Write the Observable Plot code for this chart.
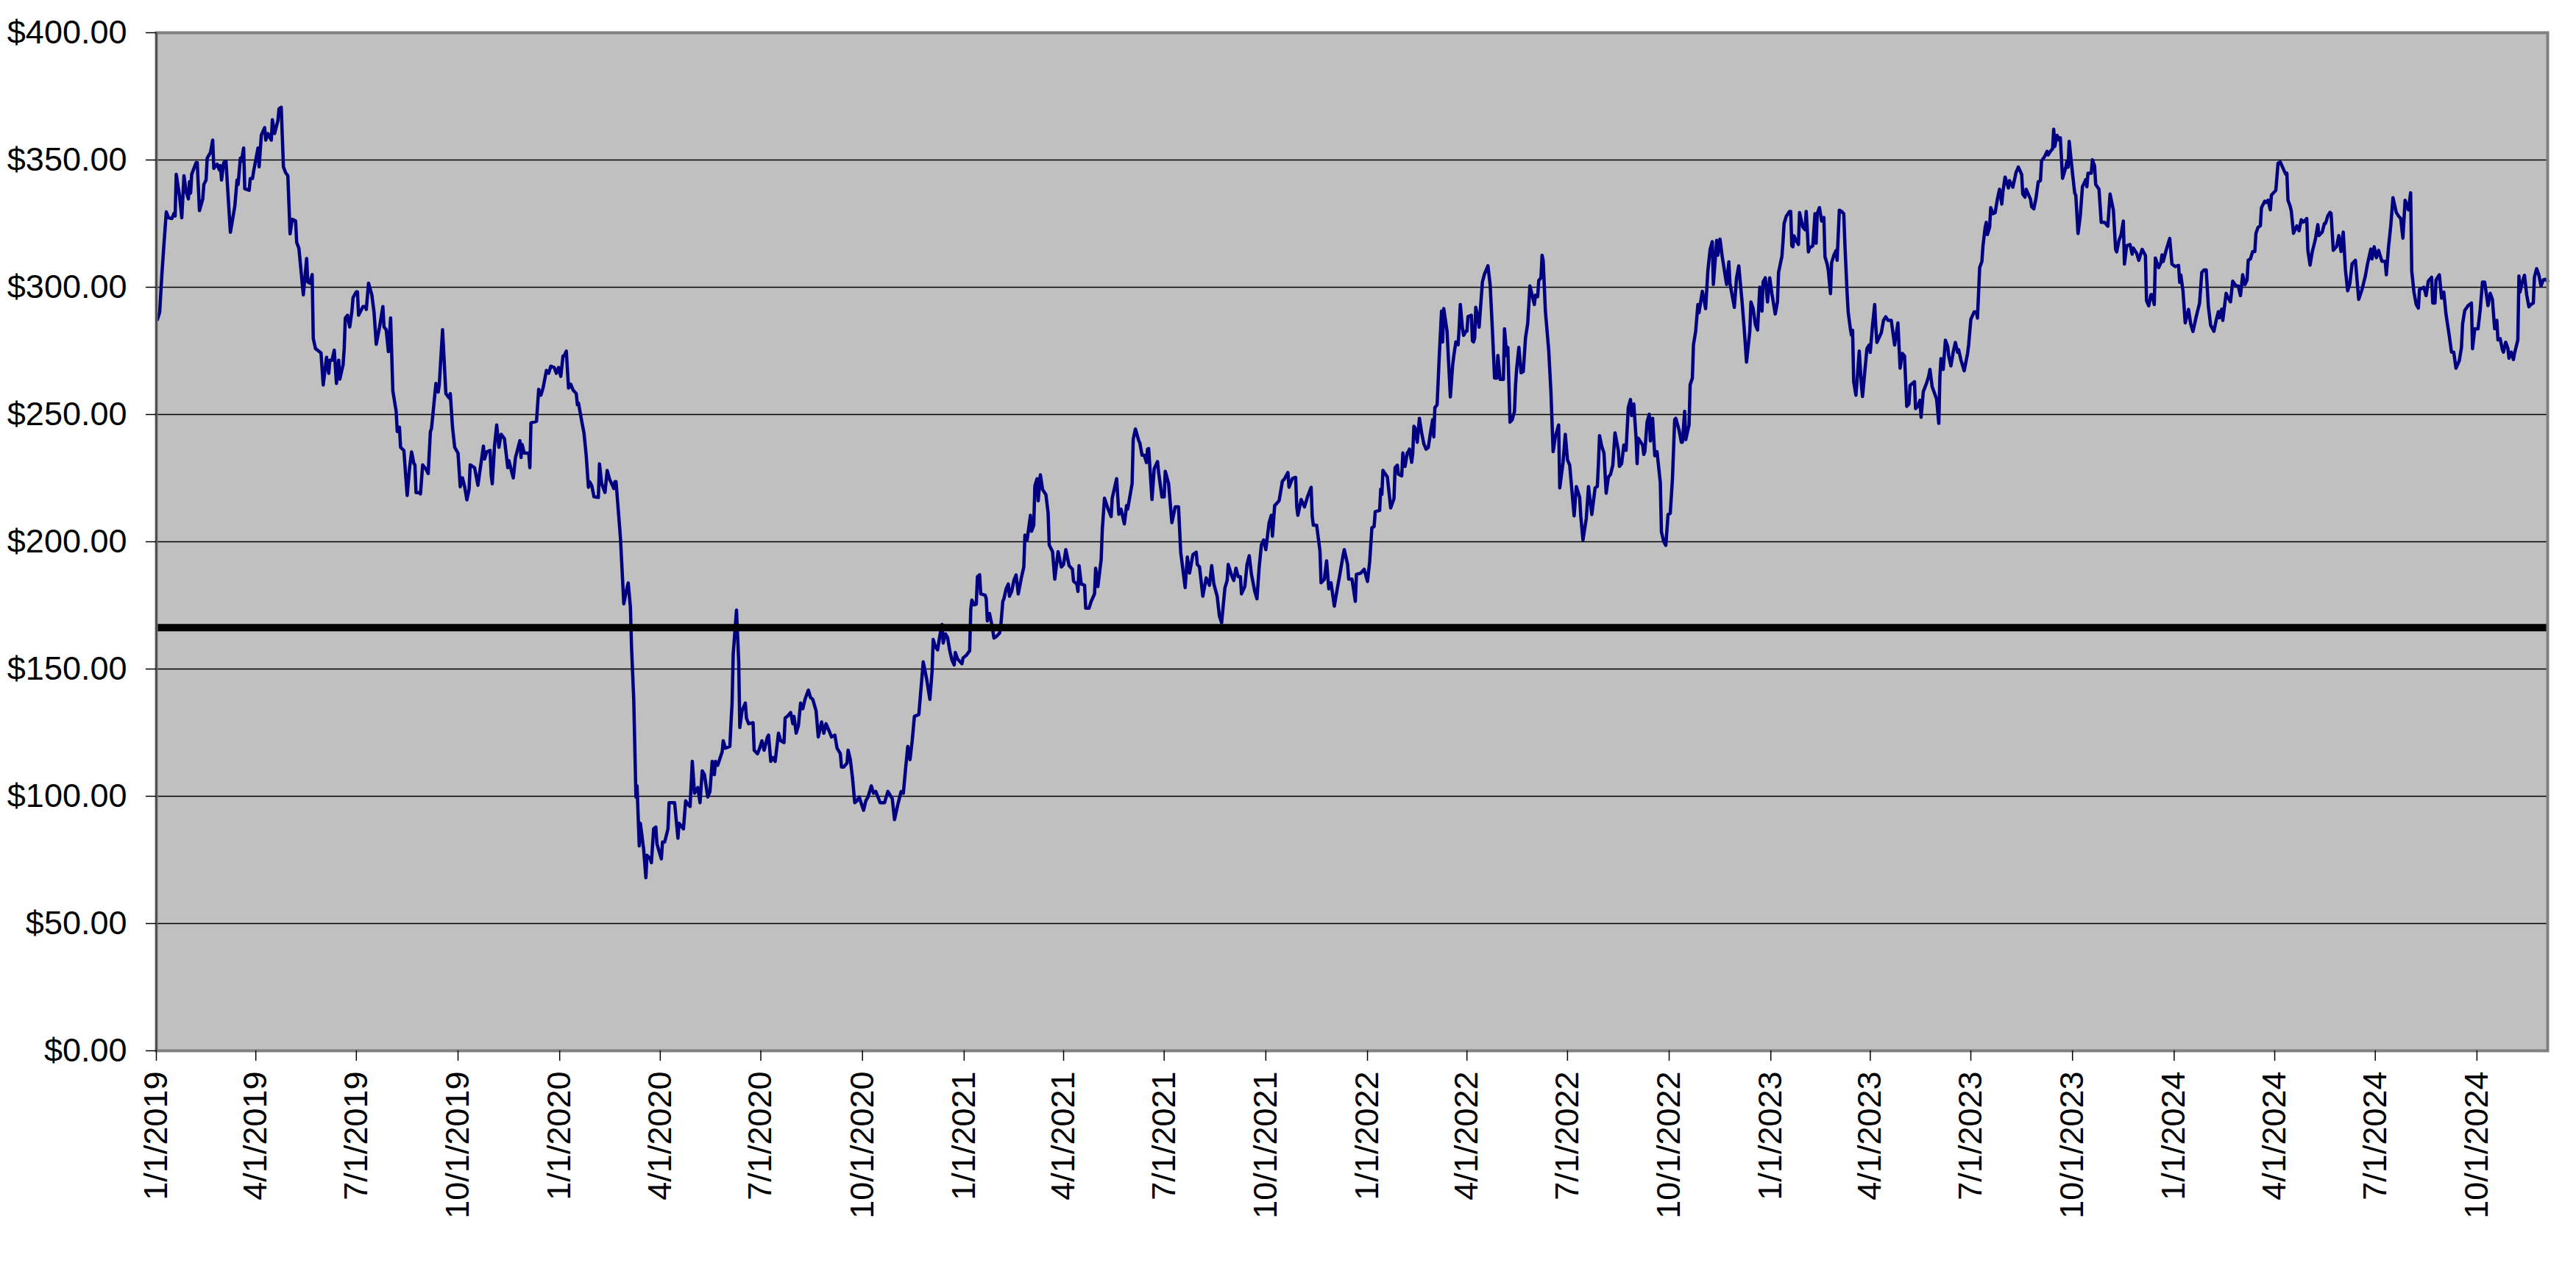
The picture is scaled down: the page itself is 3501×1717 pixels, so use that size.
<!DOCTYPE html>
<html>
<head>
<meta charset="utf-8">
<script src="https://cdn.jsdelivr.net/npm/d3@7"></script>
<script src="https://cdn.jsdelivr.net/npm/@observablehq/plot@0.6"></script>
<style>
  html, body { margin: 0; padding: 0; background: #ffffff; }
  #chart svg { display: block; }
</style>
</head>
<body>
<div id="chart"></div>
<script>
// ---- data (day offset from 2019-01-01, closing price) ----
const startDate = "2019-01-01";
const endDate = "2024-12-04";
const referenceLevel = 166.25;
const yTicks = [0, 50, 100, 150, 200, 250, 300, 350, 400];
const gridLevels = [50, 100, 150, 200, 250, 300, 350];

const trace2019 = [[1,287.3],[3,290.2],[5,305],[7,317.6],[9,329.6],[11,327.3],[14,327],[16,329],[17,328],[18,344.4],[21,335.8],[23,327.3],[25,343.8],[27,337.5],[29,334.7],[30,341.5],[31,337],[32,344.4],[36,349],[37,349],[39,330.1],[42,334.7],[43,340.4],[45,342.1],[46,350.7],[49,353],[51,357.8],[52,346.7],[55,348.4],[57,346.1],[58,347.8],[59,342.1],[61,349],[63,349.5],[67,321.6],[71,331.8],[73,342.1],[74,340.4],[76,350.7],[77,349.5],[79,354.7],[80,338.7],[84,338.1],[85,342.7],[87,342.7],[88,345.5],[92,354.7],[93,347.3],[95,359.8],[98,362.7],[99,357.8],[101,360.4],[104,357.8],[105,365.8],[107,360.4],[110,365.5],[111,370.1],[113,370.7],[115,347.3],[117,345],[119,343.8],[120,332.4],[121,321],[123,326.7],[126,326.1],[127,317.6],[129,315.3],[133,297],[136,311.3],[137,302.1],[139,301.6],[141,305],[142,279.9],[144,275.9],[149,274.2],[151,261.6],[154,272.5],[156,266.2],[157,271.3],[159,271.3],[161,275.3],[163,262.2],[165,271.3],[166,263.9],[169,269.6],[170,275.9],[171,287.9],[173,289],[175,284.4],[177,290.7],[178,295.9],[181,298.2],[182,298.2],[183,289],[187,292.4],[189,292.4],[190,291.3],[192,301.6],[195,297],[197,290.2],[199,277.6],[202,284.4],[205,292.4],[206,284.4],[208,283.3],[210,274.7],[212,287.9],[214,259.3],[217,251.3],[218,243.3],[220,245],[221,237.1],[224,235.9],[226,223.9],[227,218.2],[229,228.5],[231,235.3],[233,230.8],[234,230.2],[235,219.3],[238,219.3],[239,218.8],[241,230.2],[244,228.5],[246,226.8],[248,243.3],[249,244.5],[253,262.2],[255,258.8],[256,261.6],[259,283.3],[262,258.2],[265,256.5],[266,258.2],[268,245],[270,237.1],[273,234.8],[275,221.6],[277,225.1],[279,221.6],[281,216.5],[283,220.5],[284,230.2],[288,229.1],[291,222.2],[296,237.6],[297,232.5],[299,235.3],[302,235.9],[303,226.2],[304,222.8],[306,237.6],[308,245.9],[310,237.1],[312,242.2],[315,240.5],[318,229.1],[319,231.9],[323,225.1],[325,233.1],[329,239.7],[330,233.1],[331,238.2],[333,234.8],[337,234.8],[338,229.1],[339,246.7],[344,247.3],[346,259.9],[348,257.6],[350,260.5],[353,267.3],[355,266.2],[357,269],[360,268.5],[362,266.2],[364,268.5]];

const trace2020 = [[366,265],[368,273],[369,273],[371,274.9],[373,260.4],[375,261.9],[377,259.7],[380,258.2],[381,253.8],[382,254.5],[385,247.2],[387,242.7],[389,233.9],[391,221.4],[392,223.6],[394,222.1],[396,217.7],[400,217.4],[401,230.6],[403,222.8],[406,219.4],[408,228],[410,224.7],[414,220.9],[415,223.6],[416,223.6],[420,201.4],[423,175.6],[425,180.1],[427,183.8],[429,174.2],[430,158.7],[432,138.1],[434,99.7],[435,104.1],[437,80.5],[438,89.4],[441,79.1],[443,68],[444,76.8],[447,75.4],[448,73.9],[450,87.2],[452,87.9],[453,81.3],[455,78.3],[457,75.4],[458,82],[460,82],[463,87.2],[464,97.5],[469,97.5],[472,83.5],[473,89.4],[477,87.2],[479,98.2],[481,96.8],[483,96],[485,113.7],[487,101.2],[490,103.4],[492,97.5],[494,110],[496,108.5],[499,99.7],[501,101.9],[503,113.7],[505,108.5],[506,113.7],[508,112.2],[512,117.4],[513,121.8],[515,118.9],[519,119.6],[520,128.5],[521,136.6],[522,155.7],[525,173.1],[527,152.8],[528,127],[530,133.6],[533,136.6],[534,130.7],[536,128.5],[540,128.9],[541,118.1],[544,116.7],[546,118.9],[548,121.8],[550,118.1],[553,123.3],[554,124],[556,113.7],[558,115.2],[560,113.7],[563,124.8],[565,121.8],[568,121.1],[569,130.7],[571,131.4],[574,132.9],[576,128.5],[577,131.4],[579,124.8],[581,127.7],[583,136.6],[585,134.4],[587,138.1],[590,141.7],[592,138.8],[594,138.1],[597,133.6],[599,123.3],[602,129.2],[604,124.8],[606,128.5],[609,125.5],[611,123.3],[614,124],[616,118.9],[619,116.7],[620,111.5],[622,111.5],[625,113],[626,118.1],[628,114.4],[630,107.1],[632,97.5],[634,98.2],[636,99.7],[640,94.5],[642,98.2],[644,99.7],[647,104.1],[649,101.2],[651,101.9],[653,99.7],[655,97.5],[659,97.5],[662,101.9],[666,99],[668,90.8],[671,96.8],[674,101.9],[676,101.2],[678,110.8],[680,119.6],[682,114.4],[684,121.8],[686,131.4],[690,132.1],[691,137.3],[694,152.8],[697,146.2],[700,138.1],[702,149.1],[703,161.6],[705,158.7],[707,157.5],[709,163.1],[711,167.5],[712,160.2],[714,163.8],[716,162.4],[718,157.2],[720,153.5],[722,151.6],[723,156.5],[725,154],[729,152.1],[730,154.3]];

const trace2021 = [[733,155.4],[736,157.2],[737,173.4],[738,177.1],[740,175.2],[742,175.5],[743,186.3],[745,187],[746,179.5],[750,179],[751,177.6],[752,168.9],[754,171.8],[756,167.5],[758,162.2],[760,162.7],[763,164.1],[764,166],[766,176.6],[767,177.6],[769,181.5],[771,183.4],[772,178.6],[774,180.5],[776,184.8],[778,187],[780,179.5],[783,186.3],[785,190.1],[786,202.6],[788,200.7],[791,210.4],[792,204.1],[794,206.5],[795,221.9],[797,224.8],[798,216.1],[800,226.3],[802,220.5],[805,218.5],[807,211.3],[808,198.8],[811,196.1],[813,185.3],[816,196.1],[819,190.1],[821,191.1],[823,196.9],[826,190.6],[829,189.2],[830,184.5],[833,183.4],[834,180.5],[835,190.6],[837,183.4],[840,182.9],[841,173.9],[844,173.9],[846,176.6],[849,179.5],[850,189.6],[852,182.4],[855,193],[856,204.6],[858,217.1],[861,213.2],[864,209.9],[865,217.1],[869,224.8],[871,210.8],[873,212.8],[876,207],[878,214.2],[879,212.8],[883,222.9],[884,240.2],[886,244.3],[889,239.7],[890,238.8],[892,234],[894,234],[896,231.1],[897,236.4],[898,236.6],[901,216.6],[903,228.7],[906,231.5],[907,227.2],[910,217.6],[912,217.6],[913,227.7],[916,222.9],[919,207.5],[922,213.7],[925,213.7],[927,195.9],[931,182],[933,194],[935,187.7],[938,194.9],[941,195.9],[942,191.1],[944,190.1],[947,178.6],[950,185.8],[953,182.9],[955,190.6],[957,183.4],[960,178.6],[962,170.8],[964,168.2],[967,181.9],[969,184.8],[970,191.1],[973,186.8],[975,184.8],[977,189.6],[979,186.3],[981,186.3],[982,179.5],[985,182.4],[987,191.1],[989,194.5],[991,187.2],[994,180.5],[996,177.6],[998,190.1],[1000,198.8],[1002,200.7],[1004,196.9],[1007,207.5],[1009,210.4],[1010,202.2],[1012,214.2],[1016,216.1],[1019,223.8],[1021,224.8],[1024,227.2],[1025,221.4],[1028,224.8],[1031,225.3],[1032,213.7],[1033,210.4],[1036,216.6],[1039,213.7],[1042,218],[1045,221.4],[1046,209.9],[1047,206.5],[1050,206.5],[1053,196.4],[1054,183.9],[1057,185.3],[1059,192.5],[1061,181.5],[1063,183.9],[1066,174.7],[1069,182.4],[1071,187.2],[1074,194.9],[1075,196.9],[1078,191.1],[1079,185.3],[1082,185.3],[1085,176.6],[1086,187.2],[1090,187.7],[1093,189.2]];

const trace2022 = [[1096,184.4],[1098,192.3],[1100,205.5],[1102,206],[1103,211.8],[1107,212.3],[1108,220.7],[1109,218.6],[1110,228],[1114,225.4],[1117,213.3],[1120,217],[1121,229.1],[1123,230.1],[1124,226.5],[1127,225.9],[1128,234.9],[1130,229.6],[1132,234.9],[1133,235.4],[1134,236.4],[1136,231.2],[1137,234.9],[1138,245.4],[1139,244.8],[1141,239.1],[1143,248.5],[1145,242.8],[1147,238.5],[1149,236.4],[1151,237],[1153,242.8],[1155,248],[1156,241.2],[1157,252.7],[1159,253.8],[1161,273.2],[1163,290.6],[1164,278.5],[1165,291.6],[1168,282.7],[1171,256.9],[1173,269],[1174,272.7],[1176,278.5],[1178,277.4],[1179,284.3],[1180,293.2],[1182,283.7],[1183,281.1],[1185,282.7],[1186,282.7],[1187,288.5],[1190,289],[1191,279],[1192,278.5],[1193,280.1],[1194,292.1],[1196,287.9],[1197,284.3],[1200,302.1],[1202,305.3],[1205,308.4],[1207,301.1],[1209,283.7],[1211,264.3],[1213,264.3],[1214,273.2],[1216,263.8],[1219,263.8],[1220,283.7],[1222,273.2],[1223,276.4],[1224,261.7],[1225,247],[1227,248],[1229,251.1],[1230,261.7],[1231,268],[1233,276.4],[1235,266.4],[1237,266.9],[1239,280.1],[1241,285.8],[1243,300.5],[1245,296.9],[1247,293.2],[1248,296.9],[1250,296.3],[1251,302.6],[1253,303.7],[1254,312.6],[1255,310.5],[1257,290.6],[1260,275.3],[1262,259],[1264,235.4],[1266,241.2],[1269,245.9],[1270,221.2],[1273,231.2],[1275,242.2],[1277,232.2],[1279,230.1],[1283,210.2],[1285,221.7],[1288,217.5],[1289,210.2],[1291,200.7],[1294,209.1],[1296,221.7],[1299,210.7],[1302,221.2],[1304,221.7],[1305,230.7],[1306,241.7],[1308,237.5],[1310,234.9],[1312,219.1],[1314,225.4],[1316,226.5],[1318,230.1],[1320,242.8],[1323,235.9],[1324,229.6],[1326,230.7],[1328,238],[1330,235.9],[1332,252.7],[1334,255.9],[1335,249.6],[1337,254.1],[1339,241.2],[1340,230.7],[1341,240.7],[1345,238],[1346,234.3],[1347,235.4],[1349,247],[1351,250.1],[1352,239.6],[1354,248.5],[1356,233.8],[1358,235.4],[1361,223.3],[1362,203.9],[1364,200.2],[1366,198.6],[1368,210.7],[1370,211.2],[1372,224.9],[1374,248],[1375,248.5],[1378,243.8],[1380,239.1],[1381,239.1],[1383,251.2],[1384,240.1],[1387,245.9],[1388,261.7],[1390,264.3],[1391,277.4],[1393,282.7],[1395,293.2],[1396,290],[1399,298.4],[1400,296.3],[1402,291.6],[1404,306.3],[1406,314.7],[1408,317.9],[1409,301.1],[1412,318.4],[1413,312.6],[1415,318.9],[1417,312.1],[1421,301.1],[1423,310],[1424,301.6],[1428,292.1],[1430,303.7],[1432,308.4],[1435,294.2],[1437,283.2],[1439,270.6],[1442,282.7],[1443,294.2],[1445,291.6],[1447,285.3],[1449,283.2],[1451,300],[1453,290.6],[1454,302.1],[1456,303.7],[1458,294.2],[1460,303.7]];

const trace2023 = [[1462,297.4],[1465,289.5],[1467,294.2],[1468,305.8],[1470,310],[1471,312],[1472,317.8],[1473,325],[1475,327.9],[1478,329.8],[1479,329.8],[1480,316.3],[1481,315.9],[1482,320.2],[1484,318.3],[1486,316.8],[1487,329.3],[1490,323.6],[1492,322.6],[1493,329.8],[1494,322.6],[1495,313.9],[1496,315.4],[1499,316.3],[1501,328.9],[1502,317.3],[1503,328.9],[1505,331.3],[1507,326],[1509,327.4],[1510,312],[1512,309.1],[1513,306.7],[1515,297.5],[1516,309.6],[1518,312.5],[1520,314.4],[1521,310.6],[1523,330.3],[1525,329.8],[1527,328.9],[1528,317.3],[1530,298],[1531,290.3],[1533,283.6],[1534,281.2],[1535,283.1],[1536,262.9],[1538,257.6],[1539,262.9],[1541,274.9],[1543,261.4],[1544,257.1],[1546,266.7],[1548,275.9],[1550,277.3],[1551,274.4],[1553,285],[1555,293.2],[1556,284.5],[1557,278.3],[1561,282.1],[1563,287],[1565,288.4],[1567,287],[1570,287],[1573,277.3],[1576,286],[1578,268.2],[1580,274],[1582,273],[1584,253.2],[1586,254.2],[1587,261.4],[1591,262.9],[1592,252.3],[1594,253.2],[1596,255.6],[1597,248.9],[1599,259],[1602,262.4],[1604,265.3],[1605,267.7],[1607,260.9],[1609,258.5],[1611,256.1],[1613,246.5],[1614,264.8],[1615,272],[1617,267.7],[1619,279.2],[1621,276.8],[1622,273],[1624,269.1],[1626,274.4],[1628,278.3],[1630,274.4],[1631,275.4],[1633,271.5],[1636,267.2],[1639,273.9],[1640,277.3],[1642,287.4],[1645,290.3],[1647,290.3],[1648,287.9],[1650,307.7],[1652,310.1],[1653,316.3],[1655,323.6],[1656,325.5],[1657,320.7],[1659,323.6],[1660,331.3],[1662,328.9],[1664,329.3],[1666,334.6],[1668,338.5],[1670,332.7],[1671,337.5],[1673,343.3],[1676,339],[1677,341.9],[1680,339.3],[1683,345.2],[1685,347.2],[1688,344.3],[1689,336.6],[1691,335.4],[1692,338.5],[1694,336.6],[1696,334.6],[1697,331.7],[1699,330.8],[1701,335.1],[1703,341.4],[1705,341.9],[1706,349.6],[1709,351.5],[1711,353.4],[1712,352],[1714,353.4],[1716,354.4],[1717,362.1],[1718,355.3],[1720,359.7],[1722,357.8],[1723,358.7],[1725,342.8],[1728,347.2],[1729,349.6],[1730,347.2],[1731,357.3],[1734,344.8],[1736,337],[1737,336.1],[1739,321.1],[1741,327.9],[1743,339.5],[1746,342.3],[1747,339.5],[1748,344.8],[1751,344.8],[1752,350.1],[1754,347.6],[1755,340.4],[1758,338.5],[1760,325.5],[1763,325.5],[1766,324],[1768,336.6],[1771,330.3],[1773,314.9],[1774,313.9],[1776,318.3],[1778,320.7],[1780,326],[1781,309.1],[1783,316.3],[1786,316.8],[1788,313],[1789,315.4],[1792,313.4],[1794,310.6],[1797,314.9],[1800,312.5],[1801,294.7],[1803,292.7],[1805,297.1],[1806,297.1],[1808,293.2],[1809,311.5],[1812,307.7],[1814,309.6],[1815,312.7],[1816,310.1],[1819,314.9],[1822,319.2],[1824,309.1]];

const trace2024 = [[1827,308.1],[1830,308.6],[1831,301.9],[1832,304.8],[1834,298.5],[1836,286],[1839,291.3],[1841,285.5],[1843,282.6],[1846,288.5],[1849,293.8],[1851,305.8],[1853,306.8],[1855,306.8],[1857,292.3],[1859,285.1],[1862,282.7],[1864,287],[1866,290.4],[1867,288],[1869,291.4],[1870,287],[1873,297.6],[1875,295.7],[1877,294.3],[1879,302.4],[1882,300.5],[1884,300.5],[1886,296.7],[1888,304.9],[1890,301],[1892,302.9],[1893,310.6],[1895,311.1],[1897,314],[1899,314],[1900,321.2],[1902,323.6],[1904,324.1],[1905,331.3],[1908,333.8],[1909,333.3],[1911,334.2],[1913,330.4],[1914,336.2],[1918,338.1],[1920,348.7],[1922,349.2],[1925,346.3],[1927,344.4],[1928,344.8],[1929,334.2],[1931,331.8],[1932,329.9],[1934,321.2],[1937,324.1],[1939,322.2],[1941,326.5],[1943,325.6],[1945,326.5],[1946,327],[1947,314.5],[1949,308.7],[1951,314],[1953,317.4],[1954,319.3],[1956,324.6],[1957,320.3],[1960,321.7],[1962,325.1],[1963,325.1],[1965,328],[1967,329.4],[1968,329],[1970,314.5],[1973,316],[1975,320.3],[1977,314],[1979,321.7],[1981,306.8],[1983,298.6],[1985,301.5],[1987,309.2],[1990,310.6],[1993,295.2],[1996,299.1],[1999,304.4],[2001,309.2],[2004,315],[2005,311.1],[2007,315.9],[2009,311.6],[2011,314.5],[2014,310.2],[2017,310.2],[2018,304.9],[2020,315.9],[2022,324.1],[2024,335.2],[2027,329.4],[2029,328],[2031,327],[2033,319.3],[2035,334.2],[2037,331.3],[2038,330.4],[2040,337.1],[2041,306.3],[2043,298.1],[2045,293.3],[2047,291.8],[2048,299.1],[2050,299.5],[2052,300],[2054,296.7],[2056,302.4],[2059,303.9],[2060,293.8],[2062,293.8],[2063,302.9],[2066,304.9],[2068,295.7],[2070,298.1],[2072,289.4],[2075,280.8],[2077,274.5],[2079,274.5],[2081,268.2],[2084,271.1],[2086,276.4],[2087,285.6],[2089,290.9],[2092,292.8],[2095,293.8],[2096,275.9],[2098,283.7],[2101,283.7],[2103,291.4],[2105,302],[2107,302],[2110,292.8],[2112,297.6],[2114,295.2],[2116,283.7],[2118,287],[2119,279.3],[2121,279.8],[2123,275.5],[2124,274.5],[2126,278.4],[2128,276],[2129,272.1],[2131,274.5],[2133,271.6],[2134,274],[2137,279.3],[2138,304.4],[2139,298.1],[2141,302],[2143,304.7],[2145,297.1],[2147,292.3],[2149,293.3],[2151,293.8],[2152,303.9],[2154,307.3],[2156,304.9],[2158,300.5],[2160,302.9],[2162,303.1],[2164,302.4]];

// ---- build table ----
const t0 = new Date(startDate + "T00:00:00Z");
const t1 = new Date(endDate + "T00:00:00Z");
const series = [trace2019, trace2020, trace2021, trace2022, trace2023, trace2024]
  .flat()
  .map(([d, p]) => ({date: d3.utcDay.offset(t0, d), price: p}));
const quarterTicks = d3.utcMonth.every(3).range(t0, t1);

const FONT = "'Liberation Sans', Arial, Helvetica, sans-serif";

const chart = Plot.plot({
  width: 3501,
  height: 1717,
  marginLeft: 212,
  marginRight: 39,
  marginTop: 44,
  marginBottom: 289,
  style: {fontFamily: FONT, background: "#ffffff", color: "#000000", overflow: "visible"},
  x: {type: "utc", domain: [t0, t1]},
  y: {domain: [0, 400]},
  marks: [
    Plot.frame({fill: "#c0c0c0"}),
    Plot.ruleY(gridLevels, {stroke: "#000000", strokeWidth: 1.5}),
    Plot.line(series, {x: "date", y: "price", stroke: "#000080", strokeWidth: 4.5, strokeLinejoin: "round"}),
    Plot.ruleY([referenceLevel], {stroke: "#000000", strokeWidth: 10}),
    Plot.frame({stroke: "#808080", strokeWidth: 4}),
    Plot.ruleX([t0], {stroke: "#404040", strokeWidth: 2}),
    Plot.axisY({
      ticks: yTicks,
      tickFormat: d3.format("$.2f"),
      tickSize: 14,
      tickPadding: 26,
      fontSize: 45,
      stroke: "#000000",
      strokeWidth: 1.5,
      label: null
    }),
    Plot.axisX({
      ticks: quarterTicks,
      tickFormat: d3.utcFormat("%-m/%-d/%Y"),
      tickRotate: -90,
      tickSize: 14,
      tickPadding: 14,
      fontSize: 45,
      stroke: "#000000",
      strokeWidth: 1.5,
      label: null
    })
  ]
});
document.getElementById("chart").appendChild(chart);
</script>
</body>
</html>
